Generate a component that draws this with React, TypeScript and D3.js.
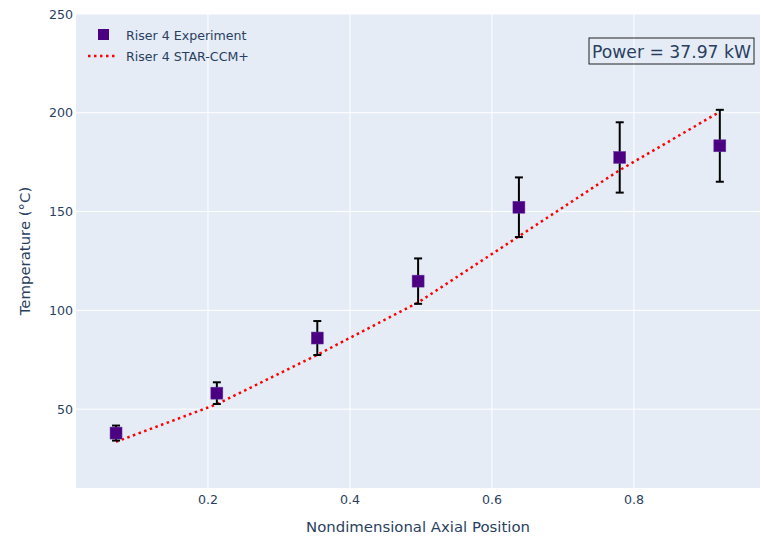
import { useEffect, useRef } from 'react';
import * as d3 from 'd3';

const positions = [0.0705, 0.2125, 0.354, 0.496, 0.638, 0.78, 0.921];
const experiment = [37.9, 58.1, 86.0, 114.8, 152.2, 177.4, 183.3];
const errors = [3.8, 5.5, 8.6, 11.5, 15.1, 17.8, 18.2];
const simulation = [33.5, 52.5, 77.5, 104, 137.5, 171, 200.5];
const xTicks = [0.2, 0.4, 0.6, 0.8];
const yTicks = [50, 100, 150, 200, 250];
const seriesNames = ['Riser 4 Experiment', 'Riser 4 STAR-CCM+'];
const annotationText = 'Power = 37.97 kW';

const W = 761;
const H = 540;
const margin = { left: 76, right: 1, top: 14, bottom: 52 };
const font = '"DejaVu Sans", Verdana, sans-serif';
const textColor = '#2a3f5f';

function App() {
  const svgRef = useRef<SVGSVGElement>(null);

  useEffect(() => {
    document.body.style.margin = '0';
    const svg = d3.select(svgRef.current);
    svg.selectAll('*').remove();

    const x = d3
      .scaleLinear()
      .domain([0.0141, 0.9776])
      .range([margin.left, W - margin.right]);
    const y = d3
      .scaleLinear()
      .domain([10.1, 250])
      .range([H - margin.bottom, margin.top]);

    svg
      .append('rect')
      .attr('x', margin.left)
      .attr('y', margin.top)
      .attr('width', W - margin.left - margin.right)
      .attr('height', H - margin.top - margin.bottom)
      .attr('fill', '#E5ECF6');

    const grid = svg.append('g');
    grid
      .selectAll('line.gx')
      .data(xTicks)
      .enter()
      .append('line')
      .attr('x1', (d) => x(d))
      .attr('x2', (d) => x(d))
      .attr('y1', margin.top)
      .attr('y2', H - margin.bottom)
      .attr('stroke', '#fff')
      .attr('stroke-width', 1);
    grid
      .selectAll('line.gy')
      .data(yTicks)
      .enter()
      .append('line')
      .attr('x1', margin.left)
      .attr('x2', W - margin.right)
      .attr('y1', (d) => y(d))
      .attr('y2', (d) => y(d))
      .attr('stroke', '#fff')
      .attr('stroke-width', 1);

    // tick labels
    svg
      .selectAll('text.xt')
      .data(xTicks)
      .enter()
      .append('text')
      .attr('x', (d) => x(d))
      .attr('y', H - margin.bottom + 16)
      .attr('text-anchor', 'middle')
      .attr('font-family', font)
      .attr('font-size', 12.6)
      .attr('fill', textColor)
      .text((d) => d3.format('.1f')(d));
    svg
      .selectAll('text.yt')
      .data(yTicks)
      .enter()
      .append('text')
      .attr('x', margin.left - 3)
      .attr('y', (d) => y(d) + 4.5)
      .attr('text-anchor', 'end')
      .attr('font-family', font)
      .attr('font-size', 12.6)
      .attr('fill', textColor)
      .text((d) => d);

    svg
      .append('text')
      .attr('x', (margin.left + W - margin.right) / 2)
      .attr('y', 532)
      .attr('text-anchor', 'middle')
      .attr('font-family', font)
      .attr('font-size', 14.9)
      .attr('fill', textColor)
      .text('Nondimensional Axial Position');
    svg
      .append('text')
      .attr('transform', `translate(30, ${(margin.top + H - margin.bottom) / 2}) rotate(-90)`)
      .attr('text-anchor', 'middle')
      .attr('font-family', font)
      .attr('font-size', 14.9)
      .attr('fill', textColor)
      .text('Temperature (°C)');

    // simulation line
    const line = d3
      .line<number>()
      .x((_, i) => x(positions[i]))
      .y((d) => y(d));
    svg
      .append('path')
      .datum(simulation)
      .attr('d', line)
      .attr('fill', 'none')
      .attr('stroke', 'red')
      .attr('stroke-width', 2.5)
      .attr('stroke-dasharray', '2.5,3.5');

    // error bars
    const eb = svg
      .append('g')
      .selectAll('g')
      .data(experiment)
      .enter()
      .append('g')
      .attr('stroke', '#000')
      .attr('stroke-width', 2);
    eb.append('line')
      .attr('x1', (_, i) => x(positions[i]))
      .attr('x2', (_, i) => x(positions[i]))
      .attr('y1', (d, i) => y(d + errors[i]))
      .attr('y2', (d, i) => y(d - errors[i]));
    eb.append('line')
      .attr('x1', (_, i) => x(positions[i]) - 4)
      .attr('x2', (_, i) => x(positions[i]) + 4)
      .attr('y1', (d, i) => y(d + errors[i]))
      .attr('y2', (d, i) => y(d + errors[i]));
    eb.append('line')
      .attr('x1', (_, i) => x(positions[i]) - 4)
      .attr('x2', (_, i) => x(positions[i]) + 4)
      .attr('y1', (d, i) => y(d - errors[i]))
      .attr('y2', (d, i) => y(d - errors[i]));

    // markers
    const ms = 12;
    svg
      .append('g')
      .selectAll('rect')
      .data(experiment)
      .enter()
      .append('rect')
      .attr('x', (_, i) => x(positions[i]) - ms / 2)
      .attr('y', (d) => y(d) - ms / 2)
      .attr('width', ms)
      .attr('height', ms)
      .attr('fill', '#4B0082')
      .attr('stroke', '#6a3fa0')
      .attr('stroke-width', 0.5);

    // legend
    const lg = svg.append('g').attr('font-family', font).attr('font-size', 12.6).attr('fill', textColor);
    lg.append('rect')
      .attr('x', 98)
      .attr('y', 29)
      .attr('width', 11)
      .attr('height', 11)
      .attr('fill', '#4B0082');
    lg.append('line')
      .attr('x1', 88)
      .attr('x2', 118)
      .attr('y1', 56)
      .attr('y2', 56)
      .attr('stroke', 'red')
      .attr('stroke-width', 2.5)
      .attr('stroke-dasharray', '2.5,3.5');
    lg.selectAll('text')
      .data(seriesNames)
      .enter()
      .append('text')
      .attr('x', 126)
      .attr('y', (_, i) => 39.5 + i * 21)
      .text((d) => d);

    // annotation
    svg
      .append('rect')
      .attr('x', 589)
      .attr('y', 38)
      .attr('width', 165)
      .attr('height', 26)
      .attr('fill', 'none')
      .attr('stroke', '#222')
      .attr('stroke-width', 1);
    svg
      .append('text')
      .attr('x', 671.5)
      .attr('y', 57.5)
      .attr('text-anchor', 'middle')
      .attr('font-family', font)
      .attr('font-size', 17.2)
      .attr('fill', textColor)
      .text(annotationText);
  }, []);

  return <svg ref={svgRef} width={W} height={H} style={{ display: 'block' }} />;
}

export default App;
